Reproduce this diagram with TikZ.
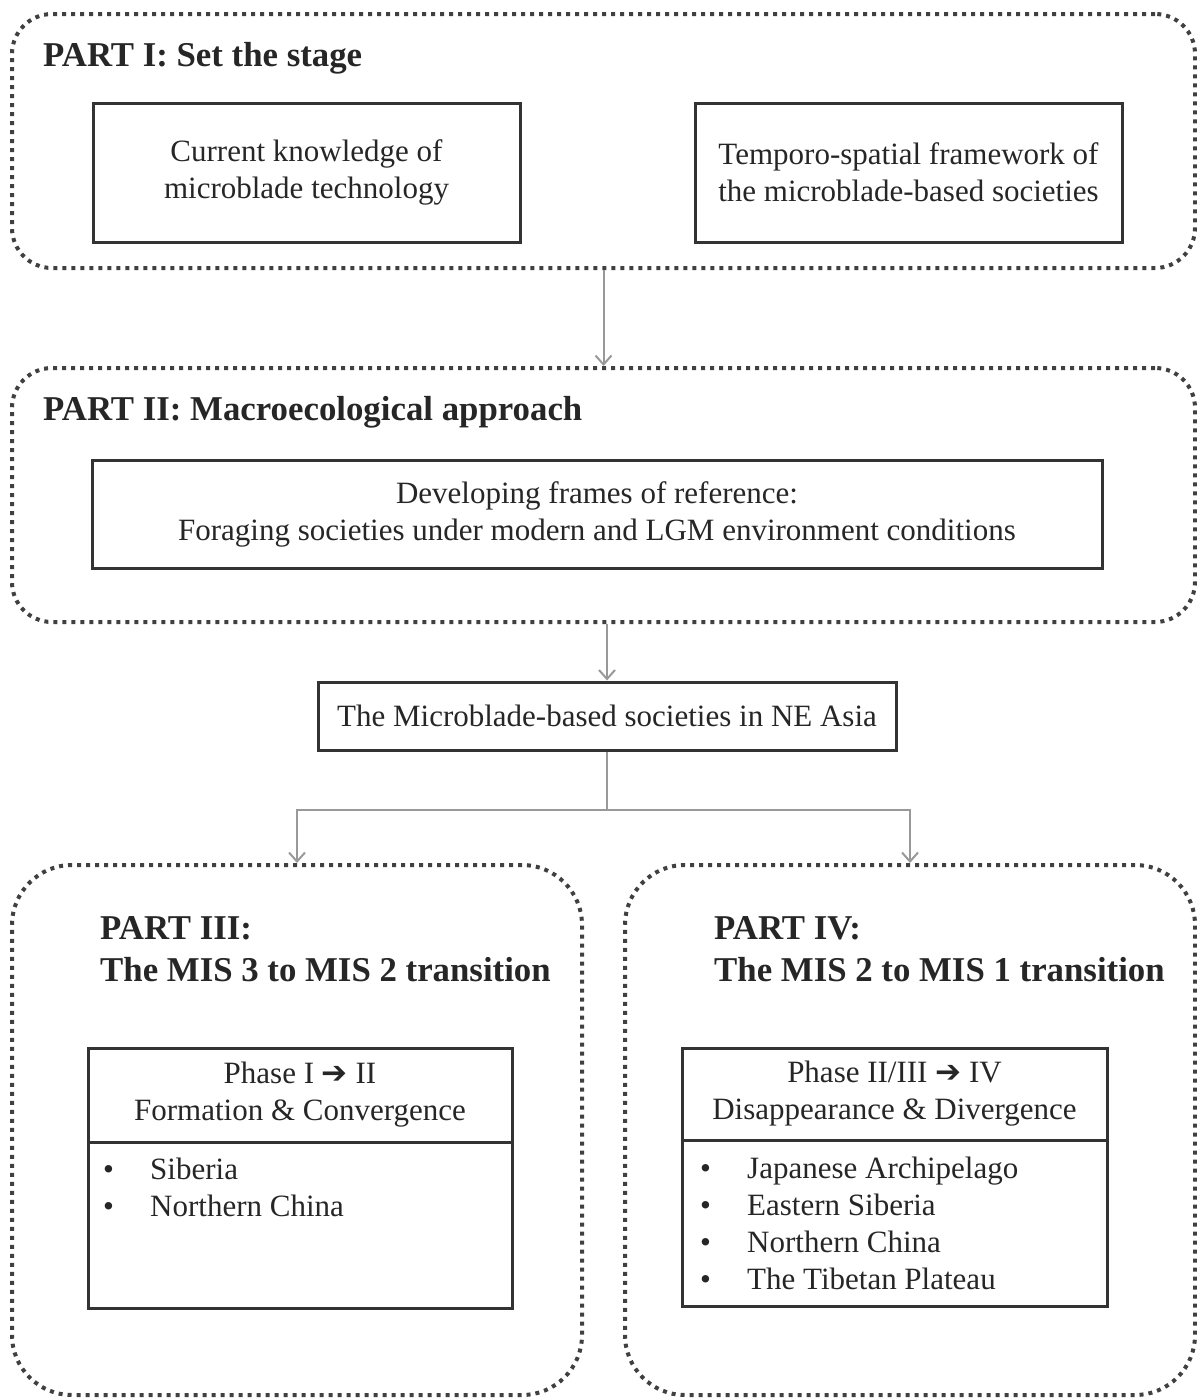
\documentclass[tikz,border=0pt]{standalone}
\usepackage{fontspec}
\setmainfont{Liberation Serif}
\newfontfamily\symfont{DejaVu Sans}
\usetikzlibrary{arrows.meta}
\tikzstyle{part}=[draw=black!75,line width=4pt,dash pattern=on 4pt off 5pt,rounded corners=40pt,inner sep=0pt,minimum width=1183pt,minimum height=254pt]
\tikzstyle{partsmall}=[part,rounded corners=60pt,minimum width=570pt,minimum height=530pt]
\tikzstyle{box}=[draw=black!80,line width=3pt,inner sep=0pt,align=center,text=black!85,font=\fontsize{31}{37}\selectfont]
\tikzstyle{title}=[anchor=west,inner sep=0pt,align=left,text=black!85,font=\bfseries\fontsize{34.8}{42}\selectfont]
\tikzstyle{items}=[anchor=base west,inner sep=0pt,text=black!85,font=\fontsize{31}{37}\selectfont]
\tikzstyle{link}=[draw=black!40,line width=2pt,-{Straight Barb[length=9pt,width=16pt]}]

\begin{document}
\begin{tikzpicture}[x=1pt,y=-1pt]
\useasboundingbox (0,0) rectangle (1197,1398);
% part I
\node[part] at (603.5,141) (p1) {};
\node[title] at (43,58) (t1) {PART I: Set the stage};
\node[box,minimum width=427pt,minimum height=139pt] at (306.5,172.5) (know) {Current knowledge of\\microblade technology};
\node[box,minimum width=427pt,minimum height=139pt] at (908.5,172.5) (frame) {Temporo-spatial framework of\\the microblade-based societies};
% part II
\node[part] at (603.5,495) (p2) {};
\node[title] at (43,412) (t2) {PART II:\ Macroecological approach};
\node[box,minimum width=1010pt,minimum height=108pt] at (597,514) (dev) {Developing frames of reference:\\Foraging societies under modern and LGM environment conditions};
\node[box,minimum width=578pt,minimum height=68pt] at (607,716) (ne) {The Microblade-based societies in NE Asia};
% part III
\node[partsmall] at (297,1130) (p3) {};
\node[title] at (100,949) (t3) {PART III:\\The MIS 3 to MIS 2 transition};
\node[box,minimum width=424pt,minimum height=94pt] at (300,1095) (h3) {Phase I {\symfont ➔} II\\Formation \& Convergence};
\node[box,minimum width=424pt,minimum height=166pt] at (300,1225) (l3) {};
\node[items] at (103,1179) (s3) {\begin{tabular}[t]{@{}p{47pt}@{}l}\textbullet&Siberia\\\textbullet&Northern China\end{tabular}};
% part IV
\node[partsmall] at (910,1130) (p4) {};
\node[title] at (714,949) (t4) {PART IV:\\The MIS 2 to MIS 1 transition};
\node[box,minimum width=425pt,minimum height=92pt] at (894.5,1094) (h4) {Phase II/III {\symfont ➔} IV\\Disappearance \& Divergence};
\node[box,minimum width=425pt,minimum height=166pt] at (894.5,1223) (l4) {};
\node[items] at (700,1178) (s4) {\begin{tabular}[t]{@{}p{47pt}@{}l}\textbullet&Japanese Archipelago\\\textbullet&Eastern Siberia\\\textbullet&Northern China\\\textbullet&The Tibetan Plateau\end{tabular}};
% arrows
\draw[link] (p1) -- (p2);
\draw[link] (ne.north |- p2.south) -- (ne.north);
\draw[link] (ne.south) -- ++(0,58) -| (p3.north);
\draw[link] (ne.south) -- ++(0,58) -| (p4.north);
\end{tikzpicture}
\end{document}
